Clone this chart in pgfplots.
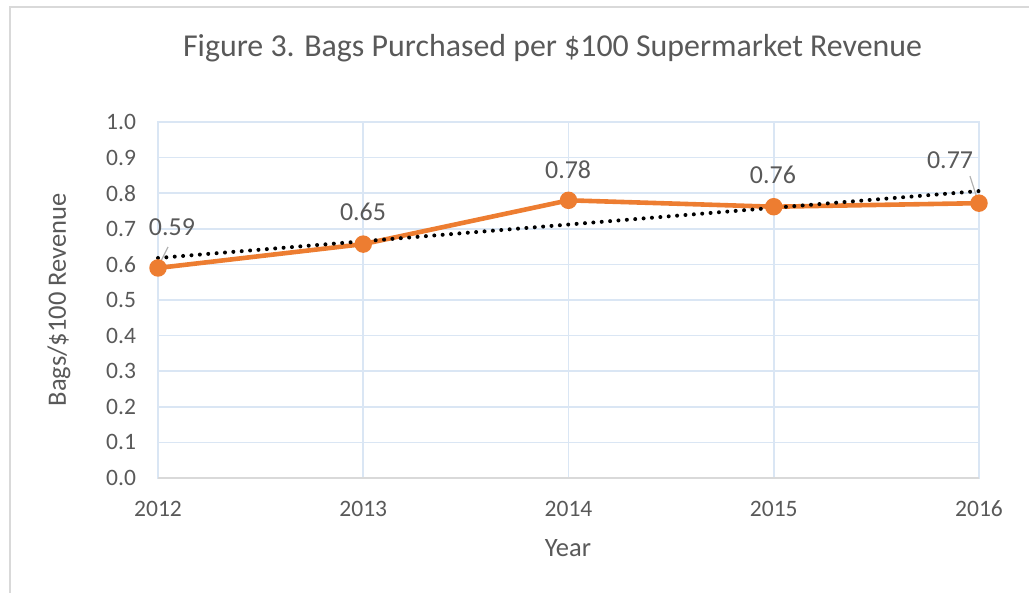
\documentclass[border=0pt]{standalone}
\usepackage{pgfplots}
\pgfplotsset{compat=1.18}
\usepackage{fontspec}
\setmainfont{Carlito}
\definecolor{xlOrange}{RGB}{237,125,49}
\definecolor{xlText}{RGB}{89,89,89}
\definecolor{xlGrid}{RGB}{218,230,244}
\definecolor{xlFrame}{RGB}{217,217,217}

\begin{document}
\begin{tikzpicture}
  \path[use as bounding box] (0,0) rectangle (514.5bp,296.5bp);
  % outer chart frame (only top and left edges visible)
  \draw[xlFrame, line width=1bp] (4.75bp,0) -- (4.75bp,292.75bp) -- (514.5bp,292.75bp);

  \begin{axis}[
      at={(79bp,57.5bp)}, anchor=south west,
      scale only axis,
      width=410.5bp, height=178bp,
      xmin=2012, xmax=2016,
      ymin=0, ymax=1,
      xtick={2012,2013,2014,2015,2016},
      ytick={0,0.1,...,1.0},
      grid=major,
      major grid style={xlGrid, line width=0.8bp},
      axis line style={xlGrid, line width=0.8bp},
      tick style={draw=none},
      x tick label style={/pgf/number format/1000 sep={}, yshift=-8bp},
      y tick label style={/pgf/number format/.cd, fixed, fixed zerofill, precision=1, /tikz/.cd, xshift=-7.5bp},
      /pgf/number format/assume math mode=true,
      tick label style={font=\fontsize{11.8}{13}\selectfont, text=xlText},
      label style={font=\fontsize{13.3}{15}\selectfont, text=xlText},
      xlabel={Year},
      xlabel style={at={(axis description cs:0.4994,-0.197)}, anchor=center},
      ylabel={Bags/\$100 Revenue},
      ylabel style={at={(axis description cs:-0.1206,0.5)}, anchor=center},
      title={Figure 3. Bags Purchased per \$100 Supermarket Revenue},
      title style={at={(axis description cs:0.4805,1.208)}, anchor=center, yshift=-6pt,
                   font=\fontsize{16}{19}\selectfont, text=xlText},
      clip=false,
  ]
  % bottom axis line in gray
  \draw[xlFrame, line width=0.8bp] (axis cs:2012,0) -- (axis cs:2016,0);

  % series
  \addplot[xlOrange, line width=2.3bp, mark=*, mark size=3.2bp,
           mark options={fill=xlOrange, draw=xlOrange}] coordinates {
      (2012,0.590) (2013,0.657) (2014,0.780) (2015,0.762) (2016,0.772)
  };

  % linear trendline
  \addplot[black, line width=2bp, line cap=round, dash pattern=on 0pt off 4.2bp] coordinates {
      (2012,0.618) (2016,0.806)
  };

  % data labels
  \begin{scope}[every node/.style={font=\fontsize{13}{15}\selectfont, text=xlText, inner sep=0pt}]
    \node at (axis cs:2012.068,0.705) {0.59};
    \node at (axis cs:2012.999,0.747) {0.65};
    \node at (axis cs:2013.998,0.865) {0.78};
    \node at (axis cs:2014.996,0.851) {0.76};
    \node at (axis cs:2015.859,0.893) {0.77};
  \end{scope}
  \draw[gray!60, line width=0.6bp] (axis cs:2012.049,0.649) -- (axis cs:2012.010,0.604);
  \draw[gray!60, line width=0.6bp] (axis cs:2015.956,0.848) -- (axis cs:2015.990,0.787);
  \end{axis}
\end{tikzpicture}
\end{document}
